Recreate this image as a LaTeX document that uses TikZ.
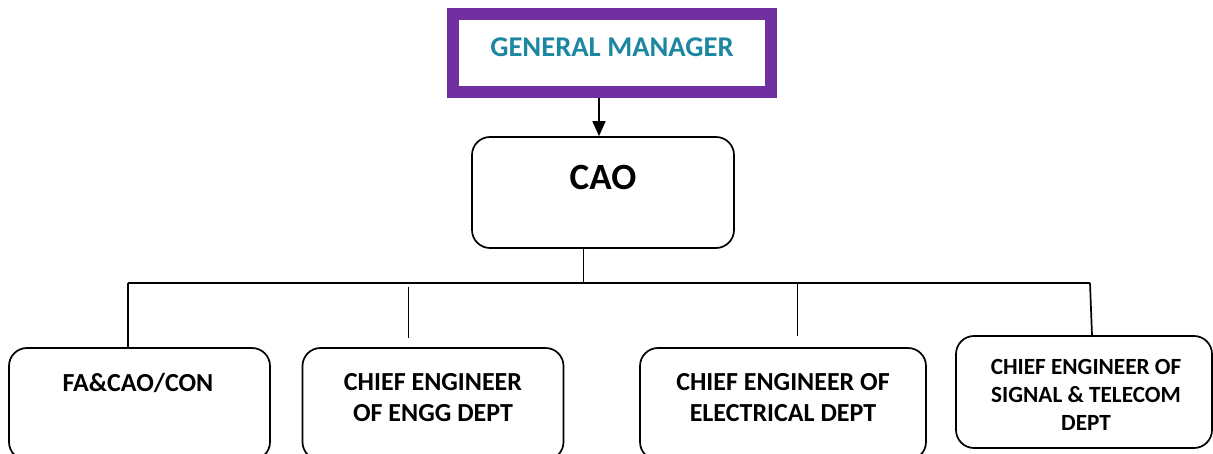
\documentclass[tikz,border=0pt]{standalone}
\usepackage{fontspec}
\setmainfont{Carlito}
\usetikzlibrary{arrows.meta,calc}
\definecolor{gmpurple}{HTML}{7030A0}
\definecolor{gmteal}{HTML}{1D87A2}
\begin{document}
\begin{tikzpicture}[x=1pt,y=-1pt,
  box/.style={draw=black,line width=1.7pt,rounded corners=18pt,fill=white,inner sep=0pt},
  wire/.style={draw=black,line width=1.7pt},
  lbl/.style={font=\bfseries\fontsize{26}{31.4}\selectfont,align=center,inner sep=0pt,text depth=0pt},
  small/.style={font=\bfseries\fontsize{23.2}{28.3}\selectfont}]
\clip (0,0) rectangle (1213,454);
\fill[white] (0,0) rectangle (1213,454);

% top of the chart
\node[draw=gmpurple,line width=12pt,fill=white,minimum width=318pt,minimum height=78.5pt,inner sep=0pt] (gm) at (612,53.25) {};
\node[text=gmteal,font=\bfseries\fontsize{28.6}{32}\selectfont,inner sep=0pt,text depth=0pt] (gmt) at (612,47) {GENERAL MANAGER};

\node[box,minimum width=262pt,minimum height=111pt] (cao) at (603,192.5) {};
\node[font=\bfseries\fontsize{37}{44}\selectfont,inner sep=0pt,text depth=0pt] (caot) at (603,177) {CAO};

\coordinate (ax) at (599,0);
\draw[wire,-{Triangle[width=13pt,length=15pt]}] (ax |- gm.south) -- (ax |- cao.north);

% departments
\node[box,minimum width=261pt,minimum height=112pt] (fa) at (139.5,404) {};
\node[box,minimum width=261pt,minimum height=112pt] (engg) at (433,404) {};
\node[box,minimum width=286pt,minimum height=112pt] (elec) at (783,404) {};
\node[box,minimum width=256pt,minimum height=112pt] (snt) at (1084,392) {};

\node[lbl] (fat) at (138,382) {FA\&CAO/CON};
\node[lbl] (enggt) at (433,397.4) {CHIEF ENGINEER\\OF ENGG DEPT};
\node[lbl] (elect) at (783,397.4) {CHIEF ENGINEER OF\\ELECTRICAL DEPT};
\node[lbl,small] (sntt) at (1086,395) {CHIEF ENGINEER OF\\SIGNAL \& TELECOM\\DEPT};

% branch lines
\coordinate (busl) at (128,283);
\coordinate (busr) at (1090,283);
\coordinate (bus) at (583.5,283);
\draw[wire] (cao.south -| bus) -- (bus);
\draw[wire] (busl) -- (busr);
\draw[wire] (busl) -- (busl |- fa.north);
\draw[wire,shorten <=4pt,shorten >=10pt] (408.5,283) -- (408.5,348);
\draw[wire,shorten >=12pt] (797.5,283) -- (797.5,348);
\draw[wire] (busr) -- ($(busr |- snt.north)+(2,0)$);
\end{tikzpicture}
\end{document}
